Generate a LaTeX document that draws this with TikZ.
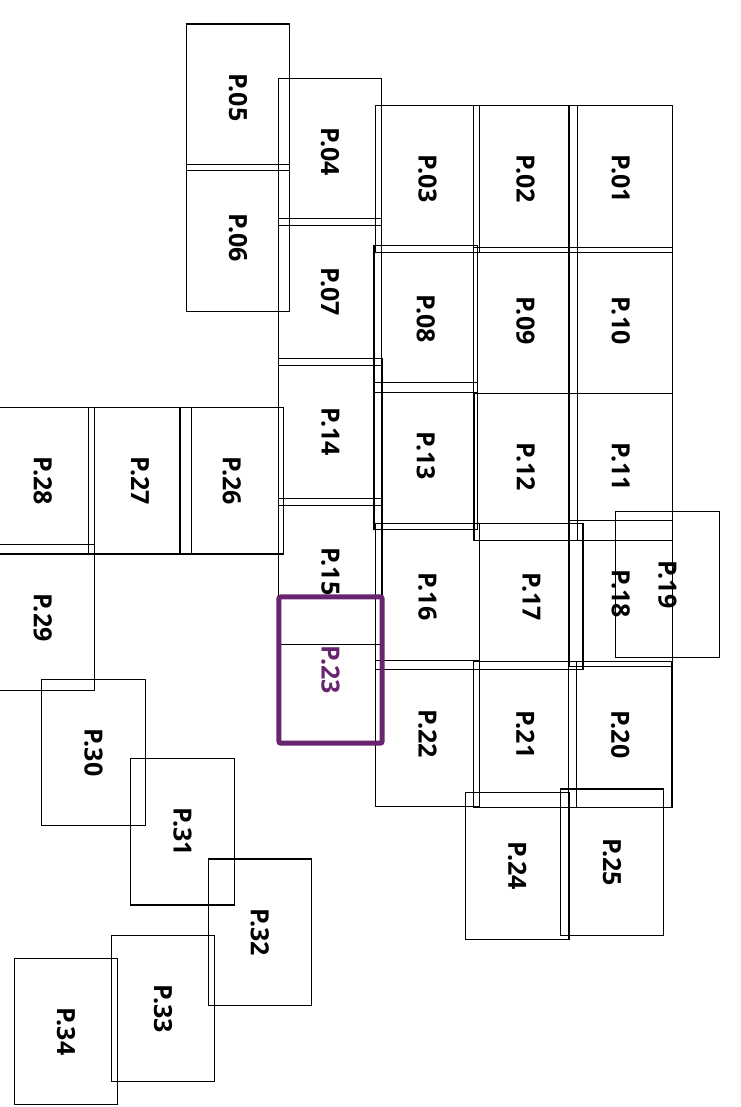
\documentclass[tikz,border=0pt]{standalone}
\usepackage{fontspec}
\setmainfont{Open Sans}
\definecolor{hl}{RGB}{104,36,110}
\begin{document}
\begin{tikzpicture}[x=1pt,y=-1pt,
  pg/.style={draw=black, line width=1.1pt, rectangle, inner sep=0pt, outer sep=0pt,
    minimum width=146.3pt, minimum height=103.3pt, rotate=-90,
    font=\bfseries\fontsize{25}{26}\selectfont, text=black},
  cur/.style={pg, draw=hl, line width=5pt, rounded corners=2pt, text=hl}]
\useasboundingbox (0,0) rectangle (740,1107);
\clip (0,0) rectangle (740,1107);
\node[pg] (p01) at (620.65,179) {P.01};
\node[pg] (p02) at (525.5,179) {P.02};
\node[pg] (p03) at (427.5,179) {P.03};
\node[pg] (p04) at (330,152) {P.04};
\node[pg] (p05) at (238,97.2) {P.05};
\node[pg] (p06) at (238,238) {P.06};
\node[pg] (p07) at (330,292) {P.07};
\node[pg] (p08) at (425.65,319) {P.08};
\node[pg] (p09) at (525.5,320.5) {P.09};
\node[pg] (p10) at (620.65,320.5) {P.10};
\node[pg] (p11) at (620.65,467) {P.11};
\node[pg] (p12) at (525.65,467) {P.12};
\node[pg] (p13) at (425.65,456) {P.13};
\node[pg] (p14) at (330.35,432) {P.14};
\node[pg] (p15) at (330.35,571.2) {P.15};
\node[pg] (p16) at (427.5,596.3) {P.16};
\node[pg] (p17) at (531.35,596.65) {P.17};
\node[pg] (p18) at (620.65,593.7) {P.18};
\node[pg] (p19) at (667.5,584.35) {P.19};
\node[pg] (p20) at (620.35,734.2) {P.20};
\node[pg] (p21) at (525.2,734.2) {P.21};
\node[pg] (p22) at (427.5,733.7) {P.22};
\node[pg] (p24) at (517.35,866) {P.24};
\node[pg] (p25) at (612,862.15) {P.25};
\node[pg] (p26) at (231.65,480.85) {P.26};
\node[pg] (p27) at (140,480.85) {P.27};
\node[pg] (p28) at (42.65,480.85) {P.28};
\node[pg] (p29) at (42.65,617.5) {P.29};
\node[pg] (p30) at (93.5,752.3) {P.30};
\node[pg] (p31) at (182.5,831.85) {P.31};
\node[pg] (p32) at (259.7,932.15) {P.32};
\node[pg] (p33) at (163,1008.7) {P.33};
\node[pg] (p34) at (66,1031.35) {P.34};
\node[cur] (p23) at (330.5,670) {P.23};
\end{tikzpicture}
\end{document}
